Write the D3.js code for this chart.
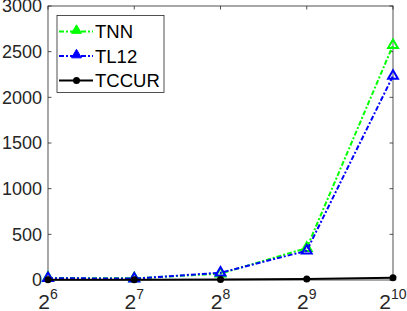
<!DOCTYPE html>
<html>
<head>
<meta charset="utf-8">
<script src="https://cdn.jsdelivr.net/npm/d3@7"></script>
<style>
  body { margin: 0; background: #fff; }
  text { font-family: "Liberation Sans", Arial, sans-serif; fill: #262626; }
</style>
</head>
<body>
<div id="chart"></div>
<script>
// data
const exponents = [6, 7, 8, 9, 10];
const tnn = [22, 18, 70, 350, 2570];
const tl12 = [20, 15, 80, 320, 2235];
const tccur = [2, 3, 5, 10, 25];
const yTicks = [0, 500, 1000, 1500, 2000, 2500, 3000];

const width = 407, height = 311;
const margin = {top: 6, right: 14, bottom: 31, left: 48};

const svg = d3.select('#chart').append('svg')
  .attr('width', width)
  .attr('height', height);

const x = d3.scaleLinear().domain([6, 10]).range([margin.left, width - margin.right]);
const y = d3.scaleLinear().domain([0, 3000]).range([height - margin.bottom, margin.top]);

// axes box
const axisColor = '#262626';
svg.append('rect')
  .attr('x', x(6)).attr('y', y(3000))
  .attr('width', x(10) - x(6)).attr('height', y(0) - y(3000))
  .attr('fill', 'none').attr('stroke', axisColor).attr('stroke-width', 0.8);

// inward ticks on all four sides
const tickLen = 3.5;
const ticks = svg.append('g').attr('stroke', axisColor).attr('stroke-width', 0.8);
yTicks.forEach(v => {
  ticks.append('line').attr('x1', x(6)).attr('x2', x(6) + tickLen).attr('y1', y(v)).attr('y2', y(v));
  ticks.append('line').attr('x1', x(10)).attr('x2', x(10) - tickLen).attr('y1', y(v)).attr('y2', y(v));
});
exponents.forEach(e => {
  ticks.append('line').attr('x1', x(e)).attr('x2', x(e)).attr('y1', y(0)).attr('y2', y(0) - tickLen);
  ticks.append('line').attr('x1', x(e)).attr('x2', x(e)).attr('y1', y(3000)).attr('y2', y(3000) + tickLen);
});

// y tick labels
svg.append('g').selectAll('text').data(yTicks).enter().append('text')
  .attr('x', x(6) - 6)
  .attr('y', d => y(d))
  .attr('dy', '0.36em')
  .attr('text-anchor', 'end')
  .style('font-size', '18px')
  .text(d => d);

// x tick labels: 2^n
const xl = svg.append('g').selectAll('text').data(exponents).enter().append('text')
  .attr('x', d => x(d))
  .attr('y', height - 2)
  .attr('text-anchor', 'middle')
  .style('font-size', '21px');
xl.append('tspan').text('2');
xl.append('tspan').attr('dy', -10).style('font-size', '14px').text(d => d);

const line = d3.line().x((d, i) => x(exponents[i])).y(d => y(d));
const tri = d3.symbol().type(d3.symbolTriangle).size(42);

const series = [
  {name: 'TNN', values: tnn, color: '#00ff00', dash: '5,2,2,2', marker: 'tri'},
  {name: 'TL12', values: tl12, color: '#0000ff', dash: '5,2,2,2', marker: 'tri'},
  {name: 'TCCUR', values: tccur, color: '#000000', dash: null, marker: 'dot'}
];

series.forEach(s => {
  svg.append('path')
    .datum(s.values)
    .attr('d', line)
    .attr('fill', 'none')
    .attr('stroke', s.color)
    .attr('stroke-width', 2)
    .attr('stroke-dasharray', s.dash);
  const g = svg.append('g');
  s.values.forEach((v, i) => {
    if (s.marker === 'tri') {
      g.append('path').attr('d', tri)
        .attr('transform', `translate(${x(exponents[i])},${y(v)})`)
        .attr('fill', 'none').attr('stroke', s.color).attr('stroke-width', 2);
    } else {
      g.append('circle').attr('cx', x(exponents[i])).attr('cy', y(v)).attr('r', 3.5)
        .attr('fill', s.color);
    }
  });
});

// legend
const lg = svg.append('g');
lg.append('rect')
  .attr('x', 57).attr('y', 15.5).attr('width', 107).attr('height', 77)
  .attr('fill', '#fff').attr('stroke', axisColor).attr('stroke-width', 0.8);
series.forEach((s, i) => {
  const ly = 31.5 + i * 24.5;
  lg.append('line').attr('x1', 59).attr('x2', 93).attr('y1', ly).attr('y2', ly)
    .attr('stroke', s.color).attr('stroke-width', 2).attr('stroke-dasharray', s.dash);
  if (s.marker === 'tri') {
    lg.append('path').attr('d', tri).attr('transform', `translate(76.5,${ly - 1})`)
      .attr('fill', s.color).attr('stroke', s.color).attr('stroke-width', 1);
  } else {
    lg.append('circle').attr('cx', 76.5).attr('cy', ly).attr('r', 3.5).attr('fill', s.color);
  }
  lg.append('text').attr('x', 95).attr('y', ly).attr('dy', '0.36em')
    .style('font-size', '18.5px').style('fill', '#000').text(s.name);
});
</script>
</body>
</html>
